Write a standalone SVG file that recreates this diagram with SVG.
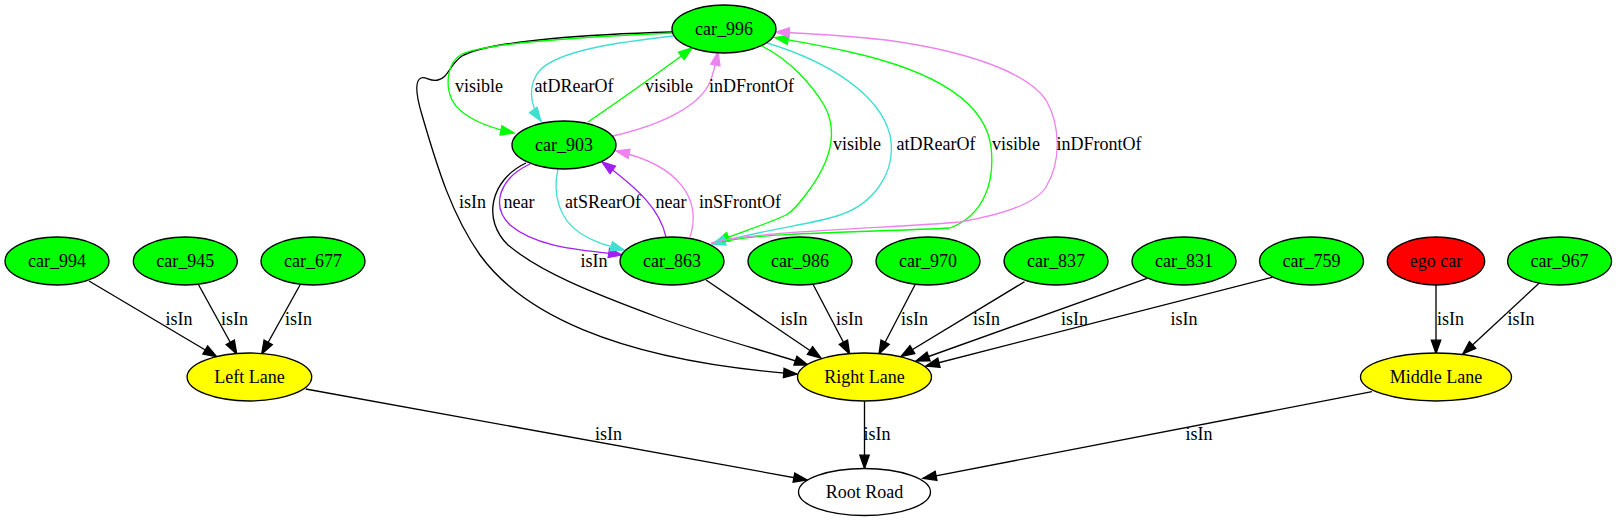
<svg xmlns="http://www.w3.org/2000/svg" width="1617" height="523" viewBox="0 0 1617 523">
<style>
text{font-family:"Liberation Serif","Times New Roman",serif;font-size:18px;text-anchor:middle;fill:#000}
.node ellipse{stroke:#000;stroke-width:1.33}
.gr{fill:#00ff00}.rd{fill:#ff0000}.ye{fill:#ffff00}.wh{fill:#ffffff}
#edges path{fill:none;stroke-width:1.33}
.k{stroke:#000;marker-end:url(#ak)}
.g{stroke:#00ff00;marker-end:url(#ag)}
.t{stroke:#40e0d0;marker-end:url(#at)}
.v{stroke:#ee82ee;marker-end:url(#av)}
.p{stroke:#a020f0;marker-end:url(#ap)}
</style>
<defs>
<marker id="ak" markerUnits="userSpaceOnUse" markerWidth="16" markerHeight="12" refX="13.3" refY="4.67" orient="auto" overflow="visible"><path d="M0,0 L13.3,4.67 L0,9.33 z" fill="#000" stroke="#000" stroke-width="1.33"/></marker>
<marker id="ag" markerUnits="userSpaceOnUse" markerWidth="16" markerHeight="12" refX="13.3" refY="4.67" orient="auto" overflow="visible"><path d="M0,0 L13.3,4.67 L0,9.33 z" fill="#00ff00" stroke="#00ff00" stroke-width="1.33"/></marker>
<marker id="at" markerUnits="userSpaceOnUse" markerWidth="16" markerHeight="12" refX="13.3" refY="4.67" orient="auto" overflow="visible"><path d="M0,0 L13.3,4.67 L0,9.33 z" fill="#40e0d0" stroke="#40e0d0" stroke-width="1.33"/></marker>
<marker id="av" markerUnits="userSpaceOnUse" markerWidth="16" markerHeight="12" refX="13.3" refY="4.67" orient="auto" overflow="visible"><path d="M0,0 L13.3,4.67 L0,9.33 z" fill="#ee82ee" stroke="#ee82ee" stroke-width="1.33"/></marker>
<marker id="ap" markerUnits="userSpaceOnUse" markerWidth="16" markerHeight="12" refX="13.3" refY="4.67" orient="auto" overflow="visible"><path d="M0,0 L13.3,4.67 L0,9.33 z" fill="#a020f0" stroke="#a020f0" stroke-width="1.33"/></marker>
</defs>
<rect x="0" y="0" width="1617" height="523" fill="#fff"/>
<g id="edges">
<!-- cars to Left Lane -->
<path class="k" d="M89,281 L216.7,356.7"/>
<text x="179" y="324.5">isIn</text>
<path class="k" d="M198.3,284.3 L236.7,354"/>
<text x="234.5" y="324.5">isIn</text>
<path class="k" d="M300,285 L261.7,354"/>
<text x="298.5" y="324.5">isIn</text>
<!-- lanes to Root Road -->
<path class="k" d="M305.7,389 L807,480"/>
<text x="608.5" y="440">isIn</text>
<path class="k" d="M864.5,401 L864.5,468.5"/>
<text x="877" y="440">isIn</text>
<path class="k" d="M1372,391.7 L923,478.3"/>
<text x="1199" y="440">isIn</text>
<!-- cars to Right Lane -->
<path class="k" d="M706,280 L821,358"/>
<text x="794" y="324.5">isIn</text>
<path class="k" d="M813,284.3 L849.6,354"/>
<text x="849.5" y="324.5">isIn</text>
<path class="k" d="M915.3,284.3 L879,354"/>
<text x="914.5" y="324.5">isIn</text>
<path class="k" d="M1024.5,281.7 L901,356.5"/>
<text x="986.5" y="324.5">isIn</text>
<path class="k" d="M1147,278.3 L916,361"/>
<text x="1074.5" y="324.5">isIn</text>
<path class="k" d="M1272,277.3 L926,366"/>
<text x="1184" y="324.5">isIn</text>
<!-- cars to Middle Lane -->
<path class="k" d="M1436,285 L1436,353.5"/>
<text x="1450.5" y="324.5">isIn</text>
<path class="k" d="M1539,283.3 L1462.8,354"/>
<text x="1521" y="324.5">isIn</text>
<!-- car_996 -> Right Lane -->
<path class="k" d="M672,32 C600,34 490,40 462,56 C450,64 448,78 438,80 C430,82 426,76 421,78 C414,81 416,95 422,115 C438,170 452,215 480,255 C520,310 610,360 797,374"/>
<text x="472.5" y="207.5">isIn</text>
<!-- car_903 -> Right Lane -->
<path class="k" d="M526,163 C490,180 482,220 508,245 C540,272 590,292 660,318 C720,340 770,352 808,365"/>
<text x="594" y="266.5">isIn</text>
<!-- car_996 -> car_903 -->
<path class="g" d="M672,33 C600,36 490,42 462,54 C447,62 445,85 452,100 C460,116 485,127 514,133"/>
<text x="479" y="91.5">visible</text>
<path class="t" d="M673,36 C620,42 560,50 540,70 C528,84 529,104 541,121"/>
<text x="574" y="91.5">atDRearOf</text>
<!-- car_903 -> car_996 -->
<path class="g" d="M588,122 C620,100 660,72 692,48"/>
<text x="669" y="91.5">visible</text>
<path class="v" d="M613,136 C665,124 700,105 710,82 C714,72 716,62 718,52"/>
<text x="751.5" y="91.5">inDFrontOf</text>
<!-- car_903 -> car_863 -->
<path class="p" d="M530,164 C500,178 490,205 510,225 C540,250 590,250 622,255"/>
<text x="519" y="207.5">near</text>
<path class="t" d="M558,169 C552,195 560,220 580,233 C595,243 610,246 624,250"/>
<text x="603" y="207.5">atSRearOf</text>
<!-- car_863 -> car_903 -->
<path class="p" d="M666,237 C660,210 640,190 602,162"/>
<text x="671" y="207.5">near</text>
<path class="v" d="M690,237 C702,200 680,165 616,151"/>
<text x="740" y="207.5">inSFrontOf</text>
<!-- car_996 -> car_863 -->
<path class="g" d="M762,46 C790,60 812,85 824,105 C838,130 832,160 807,193 C798,205 792,212 786,215 C765,225 740,232 716,242"/>
<text x="857" y="149.5">visible</text>
<path class="t" d="M767,43 C830,62 880,95 890,135 C898,175 870,205 840,215 C810,225 770,228 712,244"/>
<text x="936" y="149.5">atDRearOf</text>
<!-- car_863 -> car_996 -->
<path class="g" d="M722,242 C760,232 880,232 950,228 C985,215 995,180 991,147 C985,100 930,70 850,52 C820,45 795,41 775,37.5"/>
<text x="1016" y="149.5">visible</text>
<path class="v" d="M711,243 C760,230 900,228 960,222 C1000,215 1035,205 1046,187 C1062,160 1060,125 1046,100 C1025,70 960,50 886,40 C840,35 800,33 776,32"/>
<text x="1099" y="149.5">inDFrontOf</text>
</g>
<g id="car_996" class="node"><ellipse class="gr" cx="724" cy="29" rx="52" ry="24"/><text x="724" y="34.5">car_996</text></g>
<g id="car_903" class="node"><ellipse class="gr" cx="564" cy="145" rx="52" ry="24"/><text x="564" y="150.5">car_903</text></g>
<g id="car_994" class="node"><ellipse class="gr" cx="57" cy="261" rx="52" ry="24"/><text x="57" y="266.5">car_994</text></g>
<g id="car_945" class="node"><ellipse class="gr" cx="185.3" cy="261" rx="52" ry="24"/><text x="185.3" y="266.5">car_945</text></g>
<g id="car_677" class="node"><ellipse class="gr" cx="313" cy="261" rx="52" ry="24"/><text x="313" y="266.5">car_677</text></g>
<g id="car_863" class="node"><ellipse class="gr" cx="672" cy="261" rx="52" ry="24"/><text x="672" y="266.5">car_863</text></g>
<g id="car_986" class="node"><ellipse class="gr" cx="800" cy="261" rx="52" ry="24"/><text x="800" y="266.5">car_986</text></g>
<g id="car_970" class="node"><ellipse class="gr" cx="928" cy="261" rx="52" ry="24"/><text x="928" y="266.5">car_970</text></g>
<g id="car_837" class="node"><ellipse class="gr" cx="1056" cy="261" rx="52" ry="24"/><text x="1056" y="266.5">car_837</text></g>
<g id="car_831" class="node"><ellipse class="gr" cx="1184" cy="261" rx="52" ry="24"/><text x="1184" y="266.5">car_831</text></g>
<g id="car_759" class="node"><ellipse class="gr" cx="1311.5" cy="261" rx="52" ry="24"/><text x="1311.5" y="266.5">car_759</text></g>
<g id="ego_car" class="node"><ellipse class="rd" cx="1436" cy="261" rx="48.7" ry="24"/><text x="1436" y="266.5">ego car</text></g>
<g id="car_967" class="node"><ellipse class="gr" cx="1559.6" cy="261" rx="52" ry="24"/><text x="1559.6" y="266.5">car_967</text></g>
<g id="left_lane" class="node"><ellipse class="ye" cx="249.4" cy="377" rx="62.3" ry="24"/><text x="249.4" y="382.5">Left Lane</text></g>
<g id="right_lane" class="node"><ellipse class="ye" cx="864.5" cy="377" rx="67" ry="24"/><text x="864.5" y="382.5">Right Lane</text></g>
<g id="middle_lane" class="node"><ellipse class="ye" cx="1436" cy="377" rx="75.5" ry="24"/><text x="1436" y="382.5">Middle Lane</text></g>
<g id="root_road" class="node"><ellipse class="wh" cx="864.5" cy="492" rx="66" ry="23.5"/><text x="864.5" y="497.5">Root Road</text></g>
</svg>
